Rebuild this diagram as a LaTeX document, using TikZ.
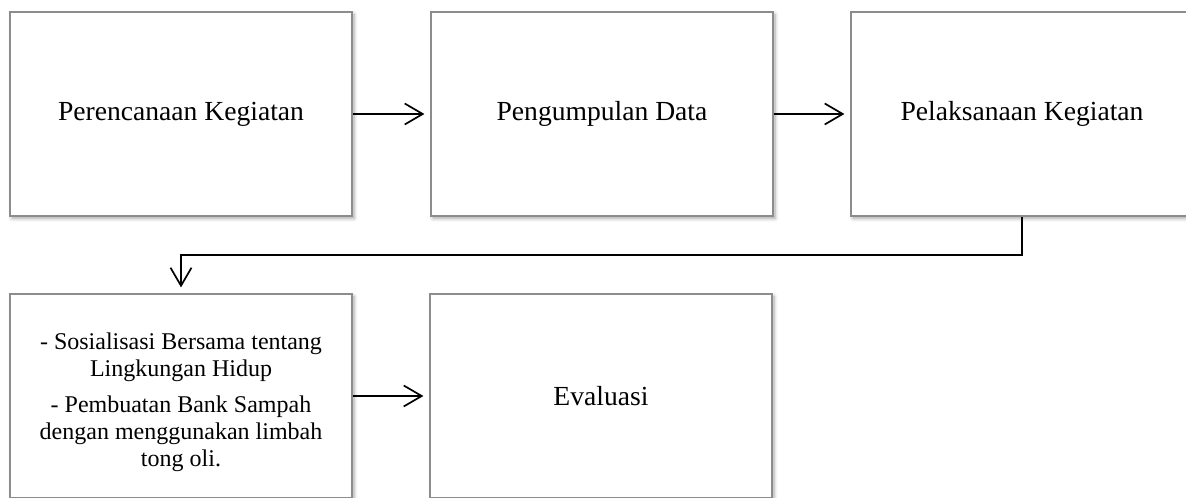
\documentclass[tikz,border=0pt]{standalone}
\usepackage{fontspec}
\setmainfont{Liberation Serif}
\usepackage{tikz}
\usetikzlibrary{arrows.meta,shadows.blur}

\begin{document}
\begin{tikzpicture}[
            x = 0.5pt, y = 0.5pt, % one unit is one pixel of the page
            > = {Straight Barb[length=9pt,width=10.5pt]}, % arrow head style
            shorten > = 3pt, % don't touch arrow head to box
            stepbox/.style = {shape=rectangle, draw=black!45, line width=0.6pt,
                fill=white, minimum width=171pt, minimum height=102pt,
                inner sep=0pt, align=center,
                blur shadow={shadow xshift=1pt, shadow yshift=-1.2pt,
                    shadow blur steps=6, shadow opacity=35}},
            bigtext/.style = {font=\fontsize{13.8}{16}\selectfont},
            smalltext/.style = {font=\fontsize{12}{13.4}\selectfont},
            line width = 0.85pt % line style
        ]
\useasboundingbox (0,0) rectangle (1186,497);

\node[stepbox,bigtext] (plan) at (181,383) {Perencanaan Kegiatan};
\node[stepbox,bigtext] (data) at (602,383) {Pengumpulan Data};
\node[stepbox,bigtext] (run) at (1022,383) {Pelaksanaan Kegiatan};
\node[stepbox,smalltext] (act) at (181,101) {\rule{0pt}{14.5pt}- Sosialisasi Bersama tentang\\
    Lingkungan Hidup\\[5pt]
    - Pembuatan Bank Sampah\\
    dengan menggunakan limbah\\
    tong oli.};
\node[stepbox,bigtext] (eval) at (601,101) {Evaluasi};

\coordinate (bend) at (601,242);

 \path [->] (plan) edge (data);
 \path [->] (data) edge (run);
 \draw [->] (run.south) |- (bend) -| (act.north);
 \path [->] (act) edge (eval);

\end{tikzpicture}
\end{document}
